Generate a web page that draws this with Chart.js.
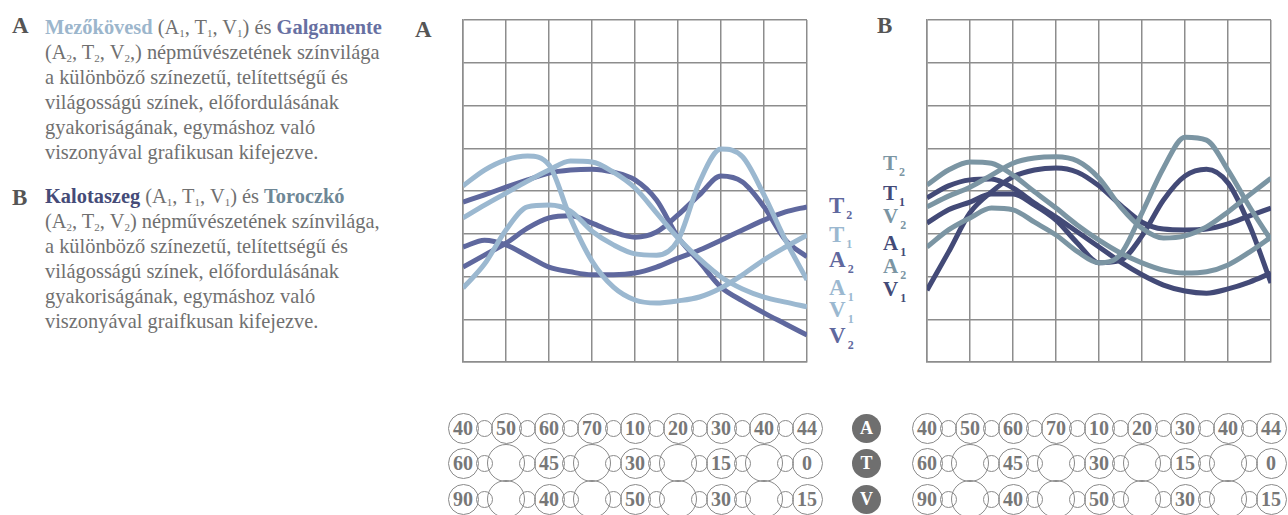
<!DOCTYPE html>
<html lang="hu">
<head>
<meta charset="utf-8">
<script src="https://cdn.jsdelivr.net/npm/chart.js@4.4.1/dist/chart.umd.min.js"></script>
<style>
  body { margin: 0; width: 1288px; height: 515px; position: relative; overflow: hidden; background: #fff;
         font-family: "Liberation Serif", "Times New Roman", serif; color: #707070; }
  .abs { position: absolute; }
  .big { font-weight: bold; font-size: 23px; line-height: 23px; color: #555; }
  .para { left: 45px; width: 380px; font-size: 20.4px; line-height: 25px; white-space: nowrap; }
  .para sub { font-size: 11px; line-height: 0; vertical-align: -3px; }
  .leg { font-weight: bold; line-height: 1; white-space: nowrap; }
  .leg sub { font-size: 12px; line-height: 0; vertical-align: -6px; margin-left: 2px; }
  .ring { position: absolute; border: 1.5px solid #8a8a8a; border-radius: 50%; box-sizing: border-box; background: transparent;
          display: flex; align-items: center; justify-content: center; font-weight: bold; font-size: 20px; color: #777; }
  .dot { position: absolute; border-radius: 50%; background: #6f6f6f; color: #fff; font-weight: bold; font-size: 18px;
         display: flex; align-items: center; justify-content: center; }
  canvas { position: absolute; }
</style>
</head>
<body>
<div class="abs big" style="left:12px;top:14px">A</div>
<div class="abs para" style="top:15px">
  <b style="color:#9cb6cc">Mezőkövesd</b> (A<sub>1</sub>, T<sub>1</sub>, V<sub>1</sub>) és <b style="color:#6770a2">Galgamente</b><br>
  (A<sub>2</sub>, T<sub>2</sub>, V<sub>2</sub>,) népművészetének színvilága<br>
  a különböző színezetű, telítettségű és<br>
  világosságú színek, előfordulásának<br>
  gyakoriságának, egymáshoz való<br>
  viszonyával grafikusan kifejezve.
</div>
<div class="abs big" style="left:12px;top:186px">B</div>
<div class="abs para" style="top:184px">
  <b style="color:#454b78">Kalotaszeg</b> (A<sub>1</sub>, T<sub>1</sub>, V<sub>1</sub>) és <b style="color:#6e8796">Toroczkó</b><br>
  (A<sub>2</sub>, T<sub>2</sub>, V<sub>2</sub>) népművészetének színvilága,<br>
  a különböző színezetű, telítettségű és<br>
  világosságú színek, előfordulásának<br>
  gyakoriságának, egymáshoz való<br>
  viszonyával graifkusan kifejezve.
</div>

<div class="abs big" style="left:415px;top:18px">A</div>
<div class="abs big" style="left:877px;top:14px">B</div>

<canvas id="chartA" width="364" height="362" style="left:453px;top:10px"></canvas>
<canvas id="chartB" width="364" height="362" style="left:917px;top:10px"></canvas>

<div id="legA"></div>
<div id="legB"></div>
<div id="rings"></div>

<script>
const xSteps = [0, 0.5, 1, 1.5, 2, 2.5, 3, 3.5, 4, 4.5, 5, 5.5, 6, 6.5, 7, 7.5, 8];

// A: Mezőkövesd (1) és Galgamente (2)
const aT1 = [4.12, 4.49, 4.73, 4.82, 4.61, 3.36, 2.36, 1.75, 1.45, 1.38, 1.43, 1.52, 1.73, 2.04, 2.39, 2.69, 2.97];
const aV1 = [3.37, 3.67, 3.95, 4.23, 4.49, 4.70, 4.68, 4.44, 4.07, 3.49, 2.90, 2.41, 1.99, 1.71, 1.52, 1.40, 1.29];
const aA1 = [1.73, 2.29, 3.09, 3.63, 3.67, 3.53, 3.06, 2.74, 2.53, 2.50, 2.85, 4.21, 4.98, 4.80, 3.91, 2.85, 1.92];
const aV2 = [3.74, 3.91, 4.09, 4.26, 4.42, 4.49, 4.51, 4.44, 4.26, 3.79, 2.92, 2.34, 1.75, 1.43, 1.15, 0.89, 0.63];
const aT2 = [2.69, 2.85, 2.74, 2.48, 2.22, 2.11, 2.04, 2.04, 2.08, 2.22, 2.43, 2.62, 2.85, 3.09, 3.32, 3.51, 3.63];
const aA2 = [2.22, 2.50, 2.78, 3.13, 3.37, 3.42, 3.25, 3.04, 2.92, 3.04, 3.44, 3.91, 4.35, 4.21, 3.63, 2.85, 2.46];

// B: Kalotaszeg (1) és Toroczkó (2)
const bT2 = [4.14, 4.49, 4.68, 4.65, 4.37, 3.98, 3.60, 3.20, 2.85, 2.55, 2.32, 2.15, 2.08, 2.11, 2.27, 2.57, 2.92];
const bT1 = [3.84, 4.12, 4.26, 4.28, 4.07, 3.72, 3.39, 3.04, 2.69, 2.34, 2.04, 1.80, 1.66, 1.61, 1.71, 1.87, 2.08];
const bV2 = [3.63, 3.88, 4.09, 4.37, 4.65, 4.77, 4.80, 4.70, 4.30, 3.63, 3.13, 2.90, 2.95, 3.16, 3.51, 3.91, 4.30];
const bA1 = [3.25, 3.56, 3.74, 3.93, 3.93, 3.67, 3.32, 2.78, 2.32, 2.38, 2.95, 3.79, 4.35, 4.51, 4.19, 3.20, 1.85];
const bA2 = [2.69, 3.09, 3.37, 3.60, 3.56, 3.27, 2.97, 2.58, 2.32, 2.52, 3.49, 4.54, 5.26, 5.19, 4.49, 3.63, 2.85];
const bV1 = [1.68, 2.57, 3.49, 3.98, 4.33, 4.49, 4.54, 4.44, 4.12, 3.67, 3.27, 3.11, 3.09, 3.11, 3.23, 3.42, 3.60];

// tick labels in the rings under the charts
const hueTicks = ["40", "50", "60", "70", "10", "20", "30", "40", "44"];
const satTicks = ["60", "", "45", "", "30", "", "15", "", "0"];
const valTicks = ["90", "", "40", "", "50", "", "30", "", "15"];
const rowKeys = ["A", "T", "V"];

const lightA = "#9bb8d0", darkA = "#5f689e";
const lightB = "#7b95a3", darkB = "#434a77";
const gridColor = "#8d8d8d";

function axis() {
  return {
    type: "linear", min: 0, max: 8,
    ticks: { display: false, stepSize: 1 },
    grid: { color: gridColor, lineWidth: 1.5, drawTicks: false },
    border: { color: gridColor, width: 1.5 }
  };
}

function makeChart(id, series, colors) {
  return new Chart(document.getElementById(id), {
    type: "line",
    data: {
      datasets: series.map((s, i) => ({
        data: xSteps.map((x, j) => ({ x: x, y: s[j] })),
        borderColor: colors[i],
        borderWidth: 5,
        pointRadius: 0,
        cubicInterpolationMode: "monotone",
        fill: false
      }))
    },
    options: {
      responsive: false,
      animation: false,
      layout: { padding: 10 },
      plugins: { legend: { display: false }, tooltip: { enabled: false } },
      scales: { x: axis(), y: axis() }
    }
  });
}

const chartA = makeChart("chartA", [aT1, aV1, aA1, aV2, aT2, aA2],
  [lightA, lightA, lightA, darkA, darkA, darkA]);
const chartB = makeChart("chartB", [bT2, bV2, bA2, bT1, bA1, bV1],
  [lightB, lightB, lightB, darkB, darkB, darkB]);

// side legends
function legend(el, items, left, size) {
  items.forEach(([letter, num, color, top]) => {
    const d = document.createElement("div");
    d.className = "abs leg";
    d.style.cssText = `left:${left}px;top:${top}px;font-size:${size}px;color:${color}`;
    d.innerHTML = `${letter}<sub>${num}</sub>`;
    el.appendChild(d);
  });
}
legend(document.getElementById("legA"), [
  ["T", 2, darkA, 194], ["T", 1, lightA, 223], ["A", 2, darkA, 248],
  ["A", 1, lightA, 276], ["V", 1, lightA, 298], ["V", 2, darkA, 324]
], 829, 23);
legend(document.getElementById("legB"), [
  ["T", 2, lightB, 153], ["T", 1, darkB, 183], ["V", 2, lightB, 206],
  ["A", 1, darkB, 233], ["A", 2, lightB, 256], ["V", 1, darkB, 279]
], 883, 21);

// ring rows, placed on each chart's x scale
const rows = [hueTicks, satTicks, valTicks];
const rowY = [428, 463, 499];
const rings = document.getElementById("rings");

function ring(cx, cy, r, text) {
  const d = document.createElement("div");
  d.className = "ring";
  d.style.cssText = `left:${cx - r}px;top:${cy - r}px;width:${2 * r}px;height:${2 * r}px`;
  d.textContent = text;
  rings.appendChild(d);
}

[[chartA, 453], [chartB, 917]].forEach(([chart, offset]) => {
  const sx = chart.scales.x;
  rows.forEach((labels, r) => {
    const cy = rowY[r];
    labels.forEach((lab, k) => {
      const cx = offset + sx.getPixelForValue(k);
      if (k < labels.length - 1) {
        const mid = offset + sx.getPixelForValue(k + 0.5);
        ring(mid, cy, 8.5, "");
      }
      ring(cx, cy, lab === "" ? 19 : 15.5, lab);
    });
  });
});

rowKeys.forEach((key, r) => {
  const d = document.createElement("div");
  d.className = "dot";
  d.style.cssText = `left:852px;top:${rowY[r] - 14.5}px;width:29px;height:29px`;
  d.textContent = key;
  rings.appendChild(d);
});
</script>
</body>
</html>
